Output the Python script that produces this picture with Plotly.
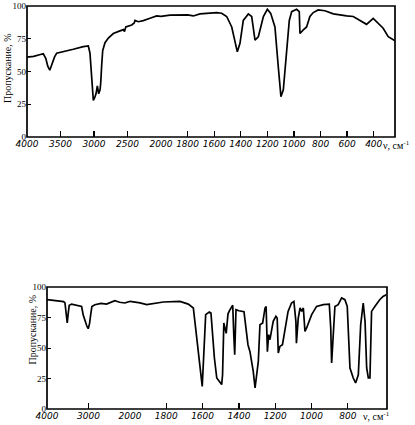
import plotly.graph_objects as go

# ---------------- data ----------------
top_wavenumber = [4000, 3900, 3800, 3757, 3720, 3690, 3660, 3630, 3590, 3557, 3458, 3309, 3160, 3085,
                  3060, 3040, 3020, 3010, 2990, 2970, 2950, 2930, 2910, 2900, 2885, 2870, 2836, 2786,
                  2712, 2650, 2612, 2560, 2545, 2525, 2437, 2400, 2388, 2338, 2264, 2164, 2065, 2000,
                  1932, 1800, 1757, 1707, 1650, 1581, 1544, 1506, 1468, 1443, 1426, 1406, 1381, 1343,
                  1318, 1293, 1268, 1230, 1200, 1175, 1143, 1118, 1098, 1080, 1055, 1035, 1017, 980,
                  960, 955, 930, 905, 880, 855, 818, 767, 704, 654, 604, 554, 504, 454, 404, 379, 329,
                  291, 240]
top_transmittance = [61, 61.5, 63, 63.5, 60, 54, 51, 56, 61, 64, 65, 67, 69, 69.5,
                     64, 50, 33, 28, 30, 33, 39, 33, 36, 41, 55, 66, 72, 75.5,
                     79, 80.5, 81, 82, 80.5, 84, 85.5, 87, 89, 88, 88.8, 90.6, 92.4, 92,
                     93, 93.2, 92.4, 94, 94.5, 95, 94.5, 92, 84, 74, 65, 71.5, 89, 94,
                     92, 74, 76.5, 92, 97.5, 94.4, 84, 53.6, 30.8, 36, 66, 89, 95.7, 97.5,
                     95.7, 79, 81.7, 84, 92, 95, 97, 96.4, 94, 93, 92.4, 92, 89, 86, 90.6, 88, 83,
                     76.6, 73.5]

bottom_wavenumber = [4000, 3800, 3688, 3600, 3567, 3540, 3512, 3490, 3464, 3407, 3248, 3166, 3127, 3087,
                     3040, 3007, 2975, 2949, 2918, 2846, 2700, 2565, 2450, 2365, 2250, 2125, 2000,
                     1945, 1908, 1872, 1816, 1725, 1679, 1651, 1624, 1602, 1583, 1563, 1554, 1535,
                     1522, 1495, 1490, 1483, 1470, 1460, 1449, 1434, 1428, 1423, 1416, 1400, 1372,
                     1350, 1339, 1321, 1311, 1293, 1284, 1269, 1256, 1250, 1243, 1236, 1229, 1211,
                     1196, 1189, 1183, 1174, 1160, 1147, 1129, 1110, 1097, 1086, 1083, 1073, 1063,
                     1054, 1045, 1036, 1027, 999, 972, 935, 902, 894, 889, 871, 853, 834, 816, 803,
                     788, 770, 757, 742, 729, 715, 705, 696, 687, 678, 669, 651, 639, 624, 606, 588]
bottom_transmittance = [89.6, 89, 88.8, 88, 86.9, 80, 70.5, 78, 85, 86, 85, 84, 77, 71.8,
                        68, 65.8, 70, 77, 84, 85.5, 86.5, 86, 88, 88.8, 87.5, 86.9, 88.2,
                        87, 85.5, 86.6, 87.7, 88.2, 86, 82.8, 50, 18.5, 77.3, 79.5, 78.7, 41.8,
                        25.4, 20, 28, 70.5, 62, 78, 81.4, 85, 60, 44.5, 81.4, 80.5, 79.8,
                        52.7, 47, 30.8, 17.2, 39, 69, 70.5, 82.8, 84, 47, 61, 56.8, 71.8,
                        75.9, 74.6, 45.9, 51.3, 52.7, 63.6, 80, 86.9, 88.2, 71.8, 54, 74.6, 82.8,
                        80, 82.8, 63.6, 66.4, 77.3, 84.1, 85.5, 86, 66.4, 37.7, 84, 85.5, 91, 89.6, 84,
                        33.6, 25.4, 21.3, 28, 69, 86.9, 71.8, 33.6, 25.4, 25.4, 80, 84, 86.9, 89.6, 92.3, 93.7]

top_ticks_high = [4000, 3500, 3000, 2500, 2000]
top_ticks_low = [1800, 1600, 1400, 1200, 1000, 800, 600, 400]
bottom_ticks_high = [4000, 3000, 2000]
bottom_ticks_low = [1800, 1600, 1400, 1200, 1000, 800]
y_ticks = [0, 25, 50, 75, 100]
y_title = "Пропускание, %"
x_unit = "ν, см<sup>-1</sup>"

# ---------------- layout geometry (pixels -> paper) ----------------
W, H = 415, 425
def px(x):
    return x / W
def py(y):
    return (H - y) / H

TOP = dict(l=27, split=161, r=395, t=6, b=137, low_end=240)
BOT = dict(l=47, split=130, r=387, t=287, b=409, low_end=584)

def split(wn, tr):
    hi = [(w, t) for w, t in zip(wn, tr) if w >= 2000]
    lo = [(w, t) for w, t in zip(wn, tr) if w <= 2000]
    return list(zip(*hi)), list(zip(*lo))

fig = go.Figure()
line = dict(color="black", width=1.7)
(th_x, th_y), (tl_x, tl_y) = split(top_wavenumber, top_transmittance)
(bh_x, bh_y), (bl_x, bl_y) = split(bottom_wavenumber, bottom_transmittance)
fig.add_trace(go.Scatter(x=th_x, y=th_y, mode="lines", line=line, xaxis="x", yaxis="y"))
fig.add_trace(go.Scatter(x=tl_x, y=tl_y, mode="lines", line=line, xaxis="x2", yaxis="y"))
fig.add_trace(go.Scatter(x=bh_x, y=bh_y, mode="lines", line=line, xaxis="x3", yaxis="y3"))
fig.add_trace(go.Scatter(x=bl_x, y=bl_y, mode="lines", line=line, xaxis="x4", yaxis="y3"))

xtickfont = dict(family="DejaVu Sans", size=9, color="black", style="italic")
ytickfont = dict(family="Liberation Serif", size=9, color="black")
titlefont = dict(family="Liberation Serif", size=10, color="black")

def xax(domain, rng, ticks, anchor):
    return dict(domain=domain, range=rng, tickvals=ticks, ticktext=[str(t) for t in ticks],
                ticks="inside", ticklen=6, tickwidth=1.3, tickcolor="black", tickangle=0,
                showgrid=False, zeroline=False, showline=False, anchor=anchor, automargin=False,
                tickfont=xtickfont, ticklabelstandoff=0, fixedrange=True)

def yax(domain, anchor):
    return dict(domain=domain, range=[0, 100], tickvals=y_ticks,
                ticktext=[str(t) for t in y_ticks], ticks="inside", ticklen=4,
                tickcolor="black", showgrid=False, zeroline=False, showline=False, anchor=anchor,
                automargin=False, tickfont=ytickfont, ticklabelstandoff=0, fixedrange=True)

fig.update_layout(
    width=W, height=H, margin=dict(l=0, r=0, t=0, b=0),
    paper_bgcolor="white", plot_bgcolor="white", showlegend=False, hovermode=False,
    xaxis=xax([px(TOP["l"]), px(TOP["split"])], [4000, 2000], top_ticks_high, "y"),
    xaxis2=xax([px(TOP["split"]), px(TOP["r"])], [2000, TOP["low_end"]], top_ticks_low, "y"),
    xaxis3=xax([px(BOT["l"]), px(BOT["split"])], [4000, 2000], bottom_ticks_high, "y3"),
    xaxis4=xax([px(BOT["split"]), px(BOT["r"])], [2000, BOT["low_end"]], bottom_ticks_low, "y3"),
    yaxis=yax([py(TOP["b"]), py(TOP["t"])], "x"),
    yaxis3=yax([py(BOT["b"]), py(BOT["t"])], "x3"),
)

for g in (TOP, BOT):
    fig.add_shape(type="rect", xref="paper", yref="paper",
                  x0=px(g["l"]), x1=px(g["r"]), y0=py(g["b"]), y1=py(g["t"]),
                  line=dict(color="black", width=1.7), layer="above")

# axis titles / unit labels
ann = dict(xref="paper", yref="paper", showarrow=False, font=titlefont)
fig.add_annotation(text=y_title, x=px(7), y=py(68), textangle=-90,
                   xanchor="center", yanchor="middle", **ann)
fig.add_annotation(text=y_title, x=px(24), y=py(367), textangle=-90,
                   xanchor="left", yanchor="bottom", **ann)
fig.add_annotation(text=x_unit, x=px(396), y=py(145), xanchor="center", yanchor="middle", **ann)
fig.add_annotation(text=x_unit, x=px(376), y=py(416), xanchor="center", yanchor="middle", **ann)

fig.write_html("out.html", post_script="document.body.style.margin='0';",
               config={"displayModeBar": False, "staticPlot": True})
